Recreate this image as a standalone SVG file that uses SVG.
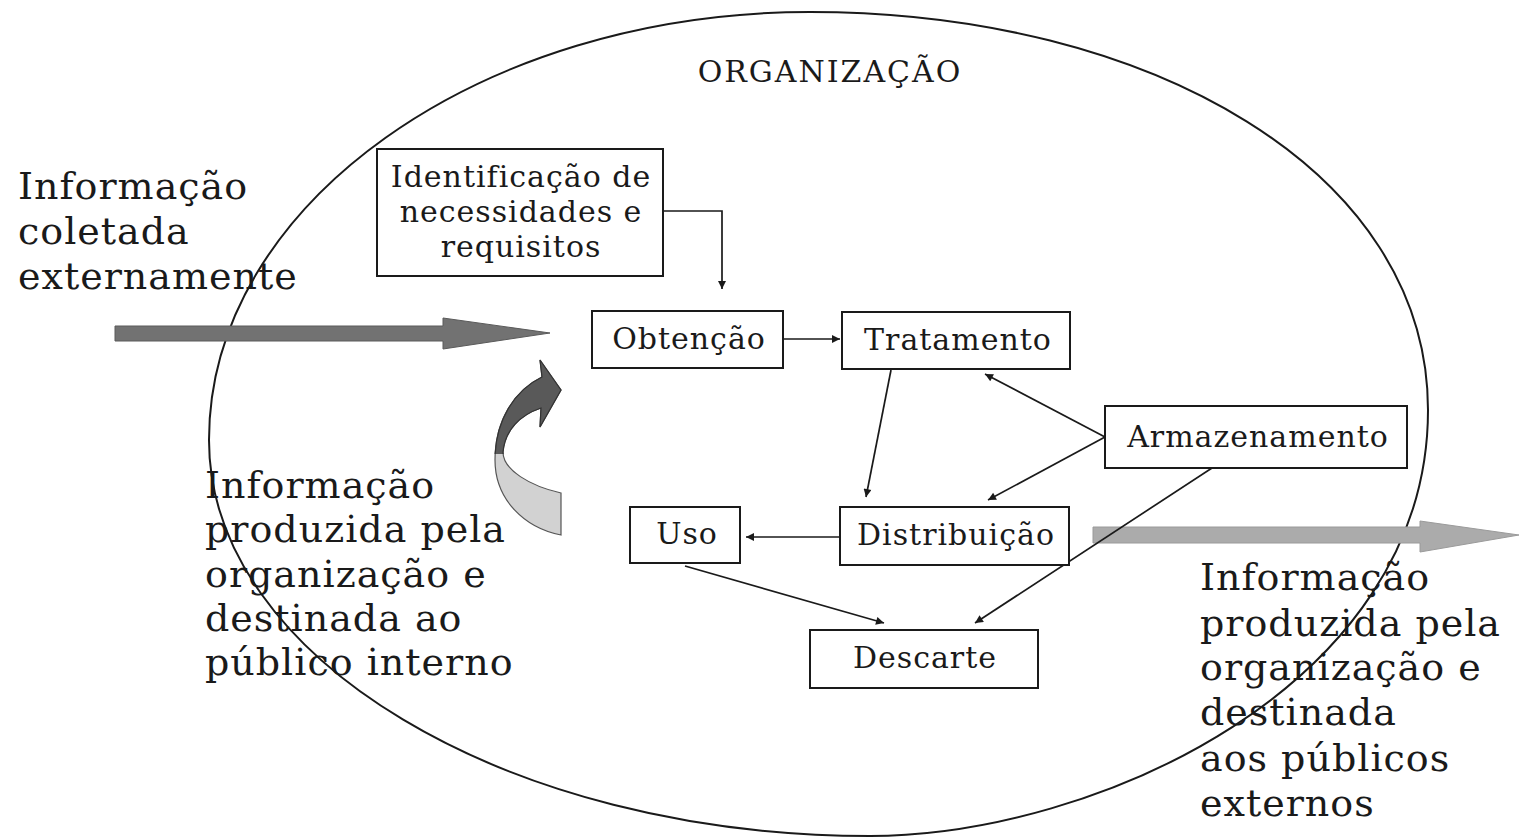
<svg xmlns="http://www.w3.org/2000/svg" width="1519" height="838" viewBox="0 0 1519 838">
<style>
.box{fill:#fff;stroke:#1a1a1a;stroke-width:2}
.bt{font-family:"DejaVu Serif","Liberation Serif",serif;font-size:30px;letter-spacing:1px;fill:#1a1a1a;text-anchor:middle}
.big{font-family:"DejaVu Serif","Liberation Serif",serif;font-size:38px;letter-spacing:1px;fill:#1a1a1a}
.ln{fill:none;stroke:#1a1a1a;stroke-width:1.7}
</style>
<defs>
<marker id="ah" viewBox="0 0 10 10" refX="10" refY="5" markerWidth="9" markerHeight="8" markerUnits="userSpaceOnUse" orient="auto">
<path d="M0,0 L10,5 L0,10 Z" fill="#1a1a1a"/>
</marker>
<clipPath id="topPart"><rect x="480" y="340" width="100" height="114"/></clipPath>
</defs>
<rect width="1519" height="838" fill="#fff"/>

<g id="organizacao">
<path d="M209,440 C209,204.6 479.5,12 810,12 C1150,12 1428,171 1428,410 C1428,687 1093,836 870,836 C506.5,836 209,657.8 209,440 Z" fill="none" stroke="#1a1a1a" stroke-width="2"/>
<text x="830" y="82" style="font-family:'DejaVu Serif','Liberation Serif',serif;font-size:30px;letter-spacing:2px;fill:#1a1a1a;text-anchor:middle">ORGANIZAÇÃO</text>
</g>

<g id="seta-entrada">
<path d="M115,326 L443,326 L443,318 L550,333 L443,349 L443,341 L115,341 Z" fill="#727272" stroke="#5a5a5a" stroke-width="1"/>
</g>
<g id="seta-saida">
<path d="M1093,527 L1420,527 L1420,521 L1519,535 L1420,552 L1420,543 L1093,543 Z" fill="#ababab" stroke="#9a9a9a" stroke-width="1"/>
</g>
<g id="seta-interna">
<path d="M542,377 L540,360 L561,390 L540,427 L541,408 C520,415 505,430 503,452 C503,470 530,486 561,493 L561,535 C525,528 495,500 495,460 C495,420 515,390 542,377 Z" fill="#d2d2d2" stroke="#555" stroke-width="1.2"/>
<path clip-path="url(#topPart)" d="M542,377 L540,360 L561,390 L540,427 L541,408 C520,415 505,430 503,452 C503,470 530,486 561,493 L561,535 C525,528 495,500 495,460 C495,420 515,390 542,377 Z" fill="#595959" stroke="#333" stroke-width="1.2"/>
</g>

<g id="txt-externa">
<text class="big" x="18" y="199">Informação</text>
<text class="big" x="18" y="244">coletada</text>
<text class="big" x="18" y="289">externamente</text>
</g>
<g id="txt-interna">
<text class="big" x="205" y="498">Informação</text>
<text class="big" x="205" y="542">produzida pela</text>
<text class="big" x="205" y="587">organização e</text>
<text class="big" x="205" y="631">destinada ao</text>
<text class="big" x="205" y="675">público interno</text>
</g>
<g id="txt-externos">
<text class="big" x="1200" y="590">Informação</text>
<text class="big" x="1200" y="636">produzida pela</text>
<text class="big" x="1200" y="680">organização e</text>
<text class="big" x="1200" y="725">destinada</text>
<text class="big" x="1200" y="771">aos públicos</text>
<text class="big" x="1200" y="816">externos</text>
</g>

<g id="connectors">
<path class="ln" d="M662,211 L722,211 L722,289" marker-end="url(#ah)"/>
<path class="ln" d="M783,339 L840,339" marker-end="url(#ah)"/>
<path class="ln" d="M891,370 L866,497" marker-end="url(#ah)"/>
<path class="ln" d="M1105,437 L985,374" marker-end="url(#ah)"/>
<path class="ln" d="M1105,437 L988,500" marker-end="url(#ah)"/>
<path class="ln" d="M840,537 L746,537" marker-end="url(#ah)"/>
<path class="ln" d="M685,566 L884,623" marker-end="url(#ah)"/>
<path class="ln" d="M1212,468 L975,623" marker-end="url(#ah)"/>
</g>

<g id="identificacao">
<rect class="box" x="377" y="149" width="286" height="127"/>
<text class="bt" x="521" y="187">Identificação de</text>
<text class="bt" x="521" y="222">necessidades e</text>
<text class="bt" x="521" y="257">requisitos</text>
</g>
<g id="obtencao">
<rect class="box" x="592" y="311" width="191" height="57"/>
<text class="bt" x="689" y="349">Obtenção</text>
</g>
<g id="tratamento">
<rect class="box" x="842" y="312" width="228" height="57"/>
<text class="bt" x="958" y="350">Tratamento</text>
</g>
<g id="armazenamento">
<rect class="box" x="1105" y="406" width="302" height="62"/>
<text class="bt" x="1258" y="447">Armazenamento</text>
</g>
<g id="distribuicao">
<rect class="box" x="840" y="507" width="229" height="58"/>
<text class="bt" x="956" y="545">Distribuição</text>
</g>
<g id="uso">
<rect class="box" x="630" y="507" width="110" height="56"/>
<text class="bt" x="687" y="544">Uso</text>
</g>
<g id="descarte">
<rect class="box" x="810" y="630" width="228" height="58"/>
<text class="bt" x="925" y="668">Descarte</text>
</g>
</svg>
